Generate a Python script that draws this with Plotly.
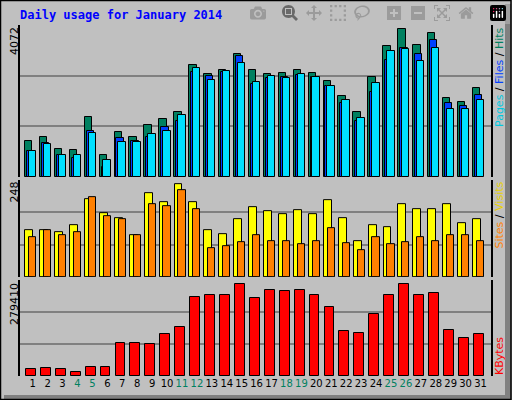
import plotly.graph_objects as go

days = list(range(1, 32))
weekend = [4, 5, 11, 12, 18, 19, 25, 26]
hits = [970,1080,755,730,1620,590,1210,1080,1400,1560,1750,2990,2750,2860,3290,2860,2750,2780,2860,2780,2560,2160,1730,2670,3510,3970,3540,3860,2110,2020,2380]
files = [700,920,590,510,1240,270,1050,970,1080,1350,1510,2800,2700,2800,3240,2480,2640,2670,2720,2670,2430,1970,1490,2290,3130,3460,3290,3670,1970,1890,2190]
pages = [700,890,590,590,1190,460,940,940,1160,1240,1670,2910,2590,2830,3050,2540,2700,2640,2750,2670,2430,2050,1590,2510,3380,3430,3100,3460,1810,1810,2050]
visits = [119,119,114,132,199,163,151,106,214,191,238,191,119,111,147,178,168,160,171,160,196,150,93,134,127,186,173,173,186,139,147]
sites = [101,121,106,116,204,155,147,108,186,181,222,173,75,80,90,106,93,93,83,93,124,88,70,101,85,90,103,93,106,106,93]
kbytes = [20370,23280,20370,11640,26190,26190,96050,96050,93140,122240,142610,229930,235750,235750,267770,227020,250300,247390,250300,235750,200830,130970,125150,180450,235750,267770,235750,241570,133880,110600,122240]
max_hits, max_visits, max_kb = 4072, 248, 279410

fig = go.Figure()
line = dict(color="black", width=1)
def bar(y, color, off, w, ya):
    fig.add_trace(go.Bar(x=days, y=y, marker=dict(color=color, line=line), offset=off, width=w,
                         yaxis=ya, xaxis="x", showlegend=False, hoverinfo="skip"))
bar(hits, "#008060", -0.52, 0.5, "y")
bar(files, "#0040FF", -0.39, 0.5, "y")
bar(pages, "#00E0FF", -0.26, 0.5, "y")
bar(visits, "#FFFF00", -0.5, 0.53, "y2")
bar(sites, "#FF8000", -0.24, 0.48, "y2")
bar(kbytes, "#FF0000", -0.45, 0.66, "y3")

ticktext = [f'<span style="color:{"#008060" if d in weekend else "black"}">{d}</span>' for d in days]
def yax(dom, mx):
    return dict(domain=dom, range=[0, mx], tickvals=[mx/3, 2*mx/3], showticklabels=False,
                gridcolor="#808080", gridwidth=1.5, zeroline=False, showline=True, linecolor="black",
                mirror=True, linewidth=1.5, ticks="", automargin=False)
fig.update_layout(
    width=512, height=400, margin=dict(l=20, r=21, t=25, b=24, autoexpand=False),
    paper_bgcolor="#C0C0C0", plot_bgcolor="#C0C0C0", barmode="overlay", bargap=0,
    font=dict(family="DejaVu Sans", size=11, color="black"),
    xaxis=dict(range=[0.15, 31.7], tickvals=days, ticktext=ticktext, showgrid=False, zeroline=False,
               ticks="", showline=False, tickfont=dict(size=10), tickangle=0, automargin=False, anchor="y3"),
    yaxis=yax([0.567, 1], max_hits),
    yaxis2=yax([0.282, 0.558], max_visits),
    yaxis3=yax([0, 0.2735], max_kb),
)
W, H = 471, 351
def px(x): return (x - 20) / W
def py(y): return (376 - y) / H
ann = [
    dict(text="<b>Daily usage for January 2014</b>", x=px(18), y=py(15), xanchor="left", yanchor="middle",
         font=dict(family="DejaVu Sans Mono", size=12, color="#0000FF")),
    dict(text="4072", x=px(14), y=py(25), xanchor="center", yanchor="top", textangle=-90),
    dict(text="248", x=px(14), y=py(180), xanchor="center", yanchor="top", textangle=-90),
    dict(text="279410", x=px(14), y=py(281), xanchor="center", yanchor="top", textangle=-90),
    dict(text='<span style="color:#00C8E0">Pages</span> / <span style="color:#0040FF">Files</span> / <span style="color:#008060">Hits</span>',
         x=px(499), y=py(25), xanchor="center", yanchor="top", textangle=-90),
    dict(text='<span style="color:#FF8000">Sites</span> / <span style="color:#E8D000">Visits</span>',
         x=px(499), y=py(180), xanchor="center", yanchor="top", textangle=-90),
    dict(text='<span style="color:#FF0000">KBytes</span>',
         x=px(499), y=py(335), xanchor="center", yanchor="top", textangle=-90),
]
for a in ann:
    a.update(xref="paper", yref="paper", showarrow=False)
    a.setdefault("font", dict(family="DejaVu Sans", size=11, color="black"))
fig.update_layout(annotations=ann)
fig.update_layout(shapes=[
    dict(type="rect", xref="paper", yref="paper", x0=px(505), x1=px(511), y0=py(399), y1=py(4),
         fillcolor="#808080", line=dict(width=0), layer="below"),
    dict(type="rect", xref="paper", yref="paper", x0=px(4), x1=px(511), y0=py(399), y1=py(395),
         fillcolor="#808080", line=dict(width=0), layer="below"),
    dict(type="rect", xref="paper", yref="paper", x0=px(0.5), x1=px(511), y0=py(399.5), y1=py(0.5),
         line=dict(color="black", width=1.5)),
])
fig.write_html("out.html", post_script="document.body.style.margin='0';document.body.style.overflow='hidden';")
